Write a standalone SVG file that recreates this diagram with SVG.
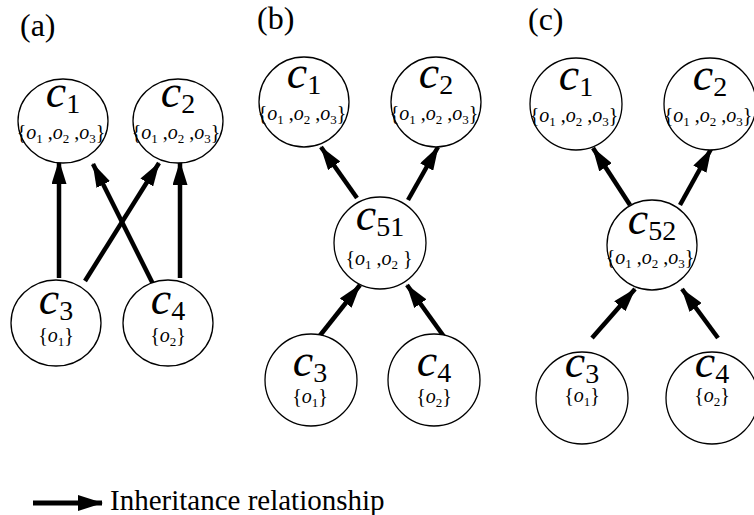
<svg xmlns="http://www.w3.org/2000/svg" width="754" height="515" viewBox="0 0 754 515" font-family="Liberation Serif, Times New Roman, serif">
<defs>
<marker id="ah" markerUnits="userSpaceOnUse" markerWidth="24" markerHeight="15" refX="23" refY="7.5" orient="auto">
<path d="M0,0 L24,7.5 L0,15 Z" fill="#000"/>
</marker>
<marker id="ahL" markerUnits="userSpaceOnUse" markerWidth="25" markerHeight="16" refX="24" refY="8" orient="auto">
<path d="M0,0 L25,8 L0,16 Z" fill="#000"/>
</marker>
<style>
text,tspan{font-family:'Liberation Serif','Times New Roman',serif}
.n{fill:#fff;stroke:#000;stroke-width:1.3}
.cl{text-anchor:middle;fill:#000}
.ci{font-style:italic;font-size:46px}
.cs{font-size:28px}
.st{font-size:20px;text-anchor:middle;fill:#000}
.o{font-style:italic}
.sb{font-size:13px}
.e{stroke:#000;stroke-width:4.5;fill:none;marker-end:url(#ah)}
.lab{font-size:32px;fill:#000}
</style>
</defs>
<text class="lab" x="20" y="36">(a)</text>
<text class="lab" x="257" y="29">(b)</text>
<text class="lab" x="528" y="30">(c)</text>

<g id="connectors">
<line class="e" x1="59" y1="278" x2="59" y2="161"/>
<line class="e" x1="153" y1="284" x2="93" y2="164"/>
<line class="e" x1="85" y1="281" x2="159" y2="163"/>
<line class="e" x1="180" y1="278" x2="180" y2="162"/>

<line class="e" x1="357" y1="198" x2="321" y2="147"/>
<line class="e" x1="408" y1="200" x2="438" y2="147"/>
<line class="e" x1="318" y1="338" x2="360" y2="285"/>
<line class="e" x1="445" y1="338" x2="407" y2="285"/>

<line class="e" x1="630" y1="205" x2="593" y2="148"/>
<line class="e" x1="680" y1="205" x2="711" y2="149"/>
<line class="e" x1="592" y1="338" x2="635" y2="289"/>
<line class="e" x1="718" y1="338" x2="682" y2="289"/>
</g>

<g id="a-c1"><ellipse class="n" cx="63" cy="121" rx="45" ry="42"/>
<text class="cl" x="63" y="107"><tspan class="ci">c</tspan><tspan class="cs" dy="6">1</tspan></text>
<text class="st" x="61" y="139">{<tspan class="o">o</tspan><tspan class="sb" dy="4">1</tspan><tspan dy="-4"> ,</tspan><tspan class="o">o</tspan><tspan class="sb" dy="4">2</tspan><tspan dy="-4"> ,</tspan><tspan class="o">o</tspan><tspan class="sb" dy="4">3</tspan><tspan dy="-4">}</tspan></text></g>
<g id="a-c2"><ellipse class="n" cx="178" cy="121" rx="45" ry="42"/>
<text class="cl" x="178" y="107"><tspan class="ci">c</tspan><tspan class="cs" dy="6">2</tspan></text>
<text class="st" x="176" y="139">{<tspan class="o">o</tspan><tspan class="sb" dy="4">1</tspan><tspan dy="-4"> ,</tspan><tspan class="o">o</tspan><tspan class="sb" dy="4">2</tspan><tspan dy="-4"> ,</tspan><tspan class="o">o</tspan><tspan class="sb" dy="4">3</tspan><tspan dy="-4">}</tspan></text></g>
<g id="a-c3"><ellipse class="n" cx="56" cy="323" rx="45" ry="43"/>
<text class="cl" x="56" y="314"><tspan class="ci">c</tspan><tspan class="cs" dy="6">3</tspan></text>
<text class="st" x="56" y="342">{<tspan class="o">o</tspan><tspan class="sb" dy="4">1</tspan><tspan dy="-4">}</tspan></text></g>
<g id="a-c4"><ellipse class="n" cx="168" cy="323" rx="45" ry="43"/>
<text class="cl" x="168" y="314"><tspan class="ci">c</tspan><tspan class="cs" dy="6">4</tspan></text>
<text class="st" x="168" y="342">{<tspan class="o">o</tspan><tspan class="sb" dy="4">2</tspan><tspan dy="-4">}</tspan></text></g>

<g id="b-c1"><circle class="n" cx="304" cy="102" r="45"/>
<text class="cl" x="304" y="88"><tspan class="ci">c</tspan><tspan class="cs" dy="6">1</tspan></text>
<text class="st" x="302" y="120">{<tspan class="o">o</tspan><tspan class="sb" dy="4">1</tspan><tspan dy="-4"> ,</tspan><tspan class="o">o</tspan><tspan class="sb" dy="4">2</tspan><tspan dy="-4"> ,</tspan><tspan class="o">o</tspan><tspan class="sb" dy="4">3</tspan><tspan dy="-4">}</tspan></text></g>
<g id="b-c2"><circle class="n" cx="436" cy="102" r="45"/>
<text class="cl" x="436" y="88"><tspan class="ci">c</tspan><tspan class="cs" dy="6">2</tspan></text>
<text class="st" x="434" y="120">{<tspan class="o">o</tspan><tspan class="sb" dy="4">1</tspan><tspan dy="-4"> ,</tspan><tspan class="o">o</tspan><tspan class="sb" dy="4">2</tspan><tspan dy="-4"> ,</tspan><tspan class="o">o</tspan><tspan class="sb" dy="4">3</tspan><tspan dy="-4">}</tspan></text></g>
<g id="b-c51"><circle class="n" cx="380" cy="243" r="46"/>
<text class="cl" x="380" y="230"><tspan class="ci">c</tspan><tspan class="cs" dy="6">51</tspan></text>
<text class="st" x="379" y="265">{<tspan class="o">o</tspan><tspan class="sb" dy="4">1</tspan><tspan dy="-4"> ,</tspan><tspan class="o">o</tspan><tspan class="sb" dy="4">2</tspan><tspan dy="-4"> }</tspan></text></g>
<g id="b-c3"><circle class="n" cx="311" cy="380" r="46"/>
<text class="cl" x="310" y="376"><tspan class="ci">c</tspan><tspan class="cs" dy="6">3</tspan></text>
<text class="st" x="310" y="403">{<tspan class="o">o</tspan><tspan class="sb" dy="4">1</tspan><tspan dy="-4">}</tspan></text></g>
<g id="b-c4"><circle class="n" cx="434" cy="380" r="46"/>
<text class="cl" x="434" y="376"><tspan class="ci">c</tspan><tspan class="cs" dy="6">4</tspan></text>
<text class="st" x="434" y="403">{<tspan class="o">o</tspan><tspan class="sb" dy="4">2</tspan><tspan dy="-4">}</tspan></text></g>

<g id="c-c1"><circle class="n" cx="576" cy="104" r="46"/>
<text class="cl" x="576" y="90"><tspan class="ci">c</tspan><tspan class="cs" dy="6">1</tspan></text>
<text class="st" x="574" y="122">{<tspan class="o">o</tspan><tspan class="sb" dy="4">1</tspan><tspan dy="-4"> ,</tspan><tspan class="o">o</tspan><tspan class="sb" dy="4">2</tspan><tspan dy="-4"> ,</tspan><tspan class="o">o</tspan><tspan class="sb" dy="4">3</tspan><tspan dy="-4">}</tspan></text></g>
<g id="c-c2"><circle class="n" cx="710" cy="104" r="46"/>
<text class="cl" x="710" y="90"><tspan class="ci">c</tspan><tspan class="cs" dy="6">2</tspan></text>
<text class="st" x="708" y="122">{<tspan class="o">o</tspan><tspan class="sb" dy="4">1</tspan><tspan dy="-4"> ,</tspan><tspan class="o">o</tspan><tspan class="sb" dy="4">2</tspan><tspan dy="-4"> ,</tspan><tspan class="o">o</tspan><tspan class="sb" dy="4">3</tspan><tspan dy="-4">}</tspan></text></g>
<g id="c-c52"><circle class="n" cx="652" cy="245" r="45"/>
<text class="cl" x="652" y="234"><tspan class="ci">c</tspan><tspan class="cs" dy="6">52</tspan></text>
<text class="st" x="650" y="264">{<tspan class="o">o</tspan><tspan class="sb" dy="4">1</tspan><tspan dy="-4"> ,</tspan><tspan class="o">o</tspan><tspan class="sb" dy="4">2</tspan><tspan dy="-4"> ,</tspan><tspan class="o">o</tspan><tspan class="sb" dy="4">3</tspan><tspan dy="-4">}</tspan></text></g>
<g id="c-c3"><circle class="n" cx="582" cy="398" r="46"/>
<text class="cl" x="582" y="377"><tspan class="ci">c</tspan><tspan class="cs" dy="6">3</tspan></text>
<text class="st" x="582" y="402">{<tspan class="o">o</tspan><tspan class="sb" dy="4">1</tspan><tspan dy="-4">}</tspan></text></g>
<g id="c-c4"><circle class="n" cx="712" cy="398" r="46"/>
<text class="cl" x="712" y="377"><tspan class="ci">c</tspan><tspan class="cs" dy="6">4</tspan></text>
<text class="st" x="712" y="402">{<tspan class="o">o</tspan><tspan class="sb" dy="4">2</tspan><tspan dy="-4">}</tspan></text></g>

<g id="legend">
<line x1="33" y1="503" x2="102" y2="503" stroke="#000" stroke-width="5" marker-end="url(#ahL)"/>
<text x="110" y="510" font-size="29" fill="#000">Inheritance relationship</text>
</g>
</svg>
